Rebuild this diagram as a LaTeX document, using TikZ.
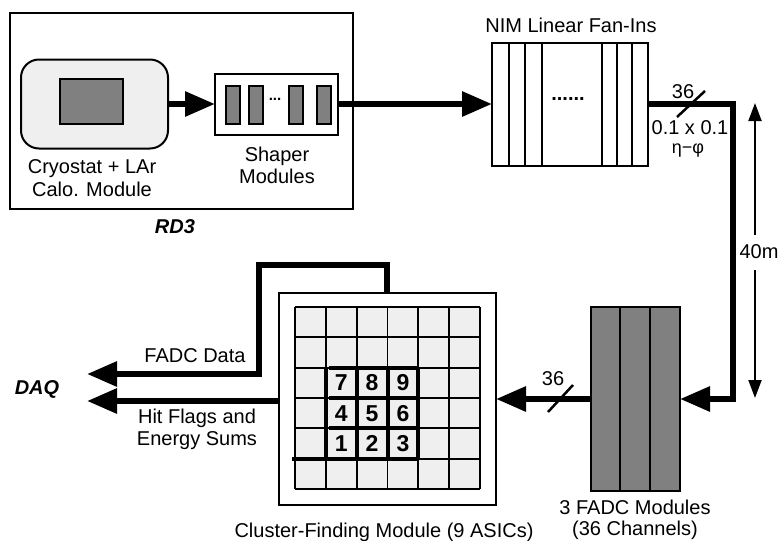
\documentclass[tikz,border=0pt]{standalone}
\usepackage{fontspec}
\setmainfont{Liberation Sans}
\usetikzlibrary{arrows.meta}
\definecolor{cellgray}{HTML}{EFEFEF}
\definecolor{modgray}{HTML}{808080}
\begin{document}
\begin{tikzpicture}[x=1pt,y=-1pt,
  lbl/.style={inner sep=0pt, anchor=base, font=\fontsize{20}{23}\selectfont},
  blbl/.style={inner sep=0pt, anchor=base, font=\fontsize{20}{23}\selectfont\bfseries\itshape},
  num/.style={inner sep=0pt, anchor=center, font=\fontsize{23}{24}\selectfont\bfseries},
  box/.style={draw, line width=2pt, inner sep=0pt, outer sep=0pt},
  wire/.style={line width=6pt},
  bigtip/.style={-{Triangle[length=30pt,width=24pt]}},
  thinarr/.style={line width=2pt, -{Triangle[length=18pt,width=13pt]}},
  slash/.style={line width=2.5pt},
  gline/.style={line width=1.8pt},
  tline/.style={line width=4pt}
]
\useasboundingbox (0,0) rectangle (780,541);

% ---------- RD3 block ----------
\node[box, minimum width=343, minimum height=196] (rd3) at (181.5,111) {};
\node[box, fill=cellgray, rounded corners=18pt, minimum width=147, minimum height=89] (cryo) at (94.5,104) {};
\node[box, fill=modgray, minimum width=63, minimum height=45] (cryoin) at (91.5,101.5) {};
\node[box, minimum width=123, minimum height=61] (shaper) at (276.5,104) {};
\foreach \x [count=\k] in {233,256,296,323.5}
  \node[box, fill=modgray, minimum width=14, minimum height=38] (sh\k) at (\x,105) {};
\node[inner sep=0pt, font=\fontsize{15}{15}\selectfont\bfseries] (shdots) at (275,99) {...};

\node[lbl] (cryol1) at (92,173) {Cryostat + LAr};
\node[lbl] (cryol2) at (92,196) {Calo. Module};
\node[lbl] (shl1) at (277,161) {Shaper};
\node[lbl] (shl2) at (277,183) {Modules};
\node[blbl] (rd3l) at (175,233) {RD3};

% ---------- NIM fan-ins ----------
\node[box, minimum width=156, minimum height=123] (nim) at (570,104) {};
\foreach \x in {509,525,542,602,617,632}
  \draw[line width=2pt] (\x,0 |- nim.north) -- (\x,0 |- nim.south);
\node[inner sep=0pt, font=\fontsize{20}{20}\selectfont\bfseries] (nimdots) at (568,99) {......};
\node[lbl] (niml) at (571,32) {NIM Linear Fan-Ins};

% ---------- FADC ----------
\node[box, fill=modgray, minimum width=89, minimum height=184] (fadc) at (635.5,399) {};
\draw[line width=2pt] (620,0 |- fadc.north) -- (620,0 |- fadc.south);
\draw[line width=2pt] (650,0 |- fadc.north) -- (650,0 |- fadc.south);
\node[lbl] (fadcl1) at (635,514) {3 FADC Modules};
\node[lbl] (fadcl2) at (635,535) {(36 Channels)};

% ---------- Cluster-finding module ----------
\node[box, line width=1.8pt, minimum width=217, minimum height=212] (clus) at (387.5,399) {};
\fill[cellgray] (295,307) rectangle (480,489);
\foreach \i in {0,...,6}{
  \draw[gline] (295+30.833*\i,307) -- (295+30.833*\i,489);
  \draw[gline] (295,307+30.333*\i) -- (480,307+30.333*\i);
}
\foreach \i in {1,...,4}{
  \draw[tline] (295+30.833*\i,367.7) -- (295+30.833*\i,458.7);
}
\foreach \j in {2,...,5}{
  \draw[tline] (328.8,307+30.333*\j) -- (418.3,307+30.333*\j);
}
\draw[tline] (292,458.7) -- (328.8,458.7);
\foreach \n/\c/\r in {7/1/2,8/2/2,9/3/2,4/1/3,5/2/3,6/3/3,1/1/4,2/2/4,3/3/4}
  \node[num] (c\n) at (295+30.833*\c+15.4,307+30.333*\r+15.2) {\n};
\node[lbl] (clusl) at (384,537) {Cluster-Finding Module (9 ASICs)};

% ---------- DAQ side ----------
\node[blbl] (daq) at (37,394) {DAQ};
\node[lbl] (fdl) at (195,362) {FADC Data};
\node[lbl] (hfl1) at (197,423) {Hit Flags and};
\node[lbl] (hfl2) at (197,445) {Energy Sums};
\coordinate (ctop) at (387,293);
\coordinate (daq1) at (87,374);
\coordinate (daq2) at (87,401);

% ---------- connectors ----------
\draw[wire,bigtip] (cryo.east) -- (shaper.west);
\draw[wire,bigtip] (shaper.east) -- (nim.west);
\draw[wire,bigtip] (nim.east) -- ++(85,0) |- (fadc.east);
\draw[wire,bigtip] (fadc.west) -- (clus.east);
\draw[wire,bigtip] (ctop) |- (259,265) -- (259,374) -- (daq1);
\draw[wire,bigtip] (clus.west |- daq2) -- (daq2);

% bus marks
\coordinate (s1) at (691,104);
\draw[slash] (s1) ++(-14,13) -- ++(28,-26);
\node[lbl] (n36a) at (683,98) {36};
\node[lbl] (eta1) at (690,134) {0.1 x 0.1};
\node[lbl, font=\fontsize{18}{20}\selectfont] (eta2) at (688,153) {η−φ};
\coordinate (s2) at (560.5,399);
\draw[slash] (s2) ++(-12.5,13) -- ++(25,-27);
\node[lbl] (n36b) at (553,385) {36};

% 40m arrow
\node[lbl] (l40) at (759,258) {40m};
\coordinate (a40) at (755,235);
\coordinate (t40) at (755,103);
\coordinate (b40) at (755,270);
\coordinate (u40) at (755,398);
\draw[thinarr] (a40) -- (t40);
\draw[thinarr] (b40) -- (u40);
\end{tikzpicture}
\end{document}
